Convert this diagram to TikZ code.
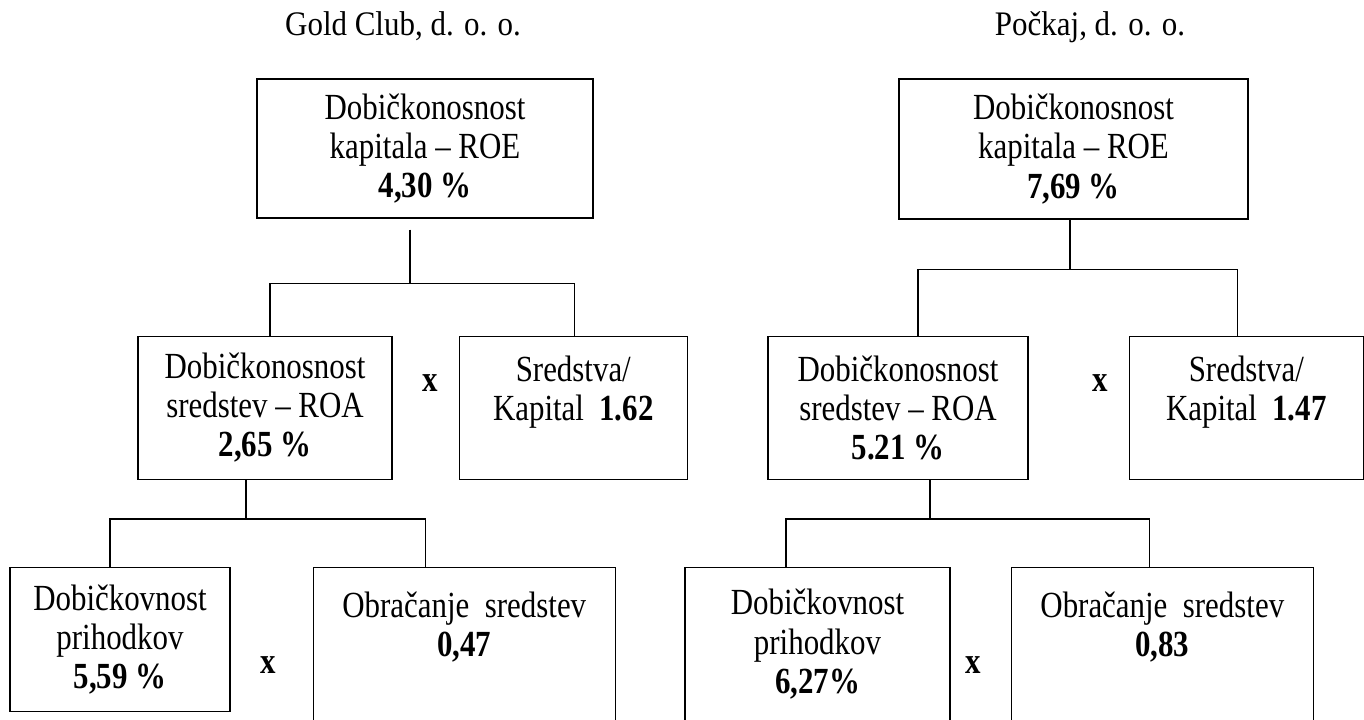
\documentclass[tikz,border=0pt]{standalone}
\usepackage{fontspec}
\setmainfont{Liberation Serif}
\newfontfamily\boxfont{Liberation Serif}[FakeStretch=0.84]
\newfontfamily\titlefont{Liberation Serif}[FakeStretch=0.9]
\usetikzlibrary{positioning}
\tikzstyle{ratiobox} = [rectangle, draw=black, line width=0.65pt, align=center, inner sep=0pt,
font=\boxfont\fontsize{18.4pt}{19.6pt}\selectfont]
\tikzstyle{link} = [line width=0.65pt]
\tikzstyle{timessign} = [font=\boxfont\fontsize{18.4pt}{19.6pt}\selectfont\bfseries]
\tikzstyle{firmtitle} = [anchor=base, font=\titlefont\fontsize{17.2pt}{20pt}\selectfont]

\begin{document}
\begin{tikzpicture}[x=0.5pt, y=-0.5pt]
  \useasboundingbox (0,0) rectangle (1364,719);
  % Gold Club
  \node (firmL) [firmtitle] at (403,35) {Gold Club, d. o. o.};
  \node (roeL) [ratiobox, minimum width=168pt, minimum height=69.5pt] at (425,148.5) {Dobičkonosnost\\kapitala – ROE\\\textbf{4,30 \%}};
  \node (roaL) [ratiobox, minimum width=127pt, minimum height=71.5pt, below=58.5pt of roeL, xshift=-80pt] {Dobičkonosnost\\sredstev – ROA\\\textbf{2,65 \%}};
  \node (skL) [ratiobox, minimum width=114pt, minimum height=71.5pt, right=33pt of roaL] {Sredstva/\\Kapital~~\textbf{1.62}\\\mbox{}};
  \node (dpL) [ratiobox, minimum width=110pt, minimum height=72pt, below=43.5pt of roaL, xshift=-72.5pt] {Dobičkovnost\\prihodkov\\\textbf{5,59 \%}};
  \node (osL) [ratiobox, minimum width=151pt, minimum height=76.5pt, right=41pt of dpL.north east, anchor=north west] {Obračanje~~sredstev\\\textbf{0,47}\\\mbox{}};
  \node (xL1) [timessign] at (430,383) {x};
  \node (xL2) [timessign] at (268,665) {x};
  \draw [link] ([xshift=-7.5pt,yshift=-5.5pt]roeL.south) -- ++(0pt,-27pt) coordinate (kL);
  \draw [link] ([xshift=2.5pt]roaL.north) |- (kL) -| ([xshift=0.5pt]skL.north);
  \draw [link] ([xshift=-9.5pt]roaL.south) -- ++(0pt,-19.5pt) coordinate (mL);
  \draw [link] ([xshift=-5pt]dpL.north) |- (mL) -| ([xshift=-19.5pt]osL.north);
  % Pockaj
  \node (firmR) [firmtitle] at (1090,35) {Počkaj, d. o. o.};
  \node (roeR) [ratiobox, minimum width=174.5pt, minimum height=70pt] at (1073.5,149) {Dobičkonosnost\\kapitala – ROE\\\textbf{7,69 \%}};
  \node (roaR) [ratiobox, minimum width=130pt, minimum height=71.5pt, below=58pt of roeR, xshift=-87.75pt] {Dobičkonosnost\\sredstev – ROA\\\textbf{5.21 \%}};
  \node (skR) [ratiobox, minimum width=117pt, minimum height=71.5pt, right=50pt of roaR] {Sredstva/\\Kapital~~\textbf{1.47}\\\mbox{}};
  \node (dpR) [ratiobox, minimum width=132.5pt, minimum height=76.5pt, below=43.5pt of roaR, xshift=-40.25pt] {Dobičkovnost\\prihodkov\\\textbf{6,27\%}};
  \node (osR) [ratiobox, minimum width=151pt, minimum height=76.5pt, right=30pt of dpR] {Obračanje~~sredstev\\\textbf{0,83}\\\mbox{}};
  \node (xR1) [timessign] at (1100,383) {x};
  \node (xR2) [timessign] at (973,665) {x};
  \draw [link] ([xshift=-1.75pt]roeR.south) -- ++(0pt,-25pt) coordinate (kR);
  \draw [link] ([xshift=10pt]roaR.north) |- (kR) -| ([xshift=-4.5pt]skR.north);
  \draw [link] ([xshift=16pt]roaR.south) -- ++(0pt,-19.5pt) coordinate (mR);
  \draw [link] ([xshift=-15.75pt]dpR.north) |- (mR) -| ([xshift=-6.5pt]osR.north);
\end{tikzpicture}
\end{document}
